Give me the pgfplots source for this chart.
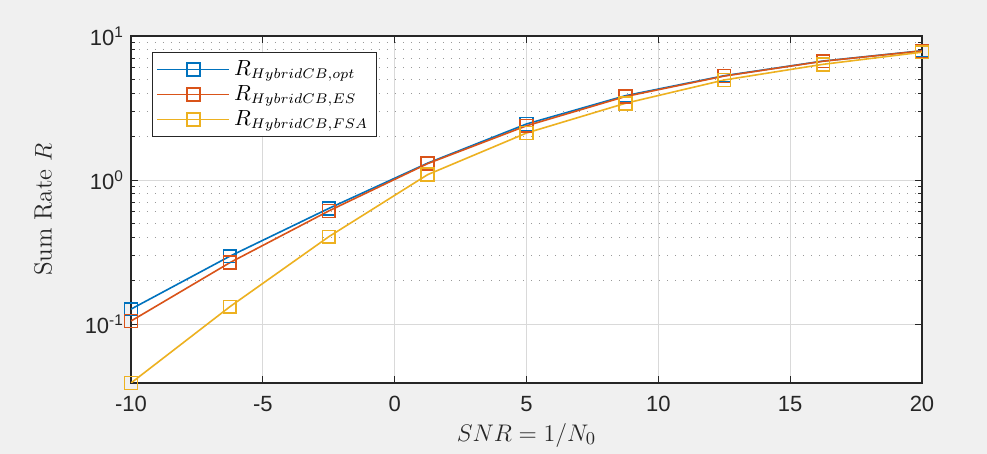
\documentclass[border=0pt]{standalone}
\usepackage{pgfplots}
\pgfplotsset{compat=1.18}
\usepackage{fontspec}
\setsansfont{Liberation Sans}
\definecolor{mblue}{rgb}{0,0.447,0.741}
\definecolor{mred}{rgb}{0.850,0.325,0.098}
\definecolor{myel}{rgb}{0.929,0.694,0.125}
\definecolor{figbg}{RGB}{240,240,240}
\definecolor{axc}{RGB}{38,38,38}
\begin{document}
\begin{tikzpicture}
\fill[figbg] (0,0) rectangle (493.5pt,227pt);
\begin{axis}[
  at={(65.5pt,35.5pt)}, anchor=south west,
  width=395.5pt, height=173.5pt, scale only axis,
  ymode=log, xmin=-10, xmax=20, ymin=0.039, ymax=10,
  axis background/.style={fill=white},
  axis line style={axc, line width=0.6pt},
  xtick={-10,-5,0,5,10,15,20},
  xticklabels={-10,-5,0,5,10,15,20},
  ytick={0.1,1,10},
  yticklabels={10\textsuperscript{-1},10\textsuperscript{0},10\textsuperscript{1}},
  /pgf/number format/assume math mode=true,
  tick label style={font=\sffamily\fontsize{11}{13}\selectfont, text=axc},
  xticklabel style={yshift=-3pt},
  tick align=inside, tick pos=both,
  major tick length=3.5pt, minor tick length=2pt,
  tick style={axc, line width=0.5pt},
  xmajorgrids, ymajorgrids, yminorgrids,
  major grid style={black!15, line width=0.5pt},
  minor grid style={black!40, line width=0.5pt, dash pattern=on 0.5pt off 3.5pt},
  xlabel={$SNR=1/N_0$},
  ylabel={Sum Rate $R$},
  every axis x label/.style={at={(axis description cs:0.5,-0.15)}, anchor=center, font=\fontsize{12.5}{14}\selectfont, text=axc},
  every axis y label/.style={at={(axis description cs:-0.111,0.5)}, anchor=center, rotate=90, font=\fontsize{12.5}{14}\selectfont, text=axc},
  legend style={at={(axis description cs:0.0265,0.954)}, anchor=north west,
    draw=axc, line width=0.6pt, fill=white, font=\fontsize{10.5}{12}\selectfont,
    row sep=-0.5pt, inner sep=2pt},
  legend cell align=left,
  legend image code/.code={\draw[line width=0.8pt, mark repeat=2,mark phase=2] plot coordinates {(0pt,0pt)(18pt,0pt)(36pt,0pt)};},
  every axis plot/.append style={line width=0.8pt, mark=square, mark size=3.2pt, mark options={solid}},
]
\addplot[mblue] coordinates {(-10,0.127)(-6.25,0.296)(-2.5,0.635)(1.25,1.31)(5,2.45)(8.75,3.85)(12.5,5.3)(16.25,6.7)(20,7.9)};
\addplot[mred] coordinates {(-10,0.105)(-6.25,0.267)(-2.5,0.61)(1.25,1.30)(5,2.38)(8.75,3.80)(12.5,5.27)(16.25,6.68)(20,7.88)};
\addplot[myel] coordinates {(-10,0.039)(-6.25,0.132)(-2.5,0.404)(1.25,1.09)(5,2.12)(8.75,3.41)(12.5,4.95)(16.25,6.36)(20,7.72)};
\legend{$R_{HybridCB,opt}$,$R_{HybridCB,ES}$,$R_{HybridCB,FSA}$}
\end{axis}
\end{tikzpicture}
\end{document}
